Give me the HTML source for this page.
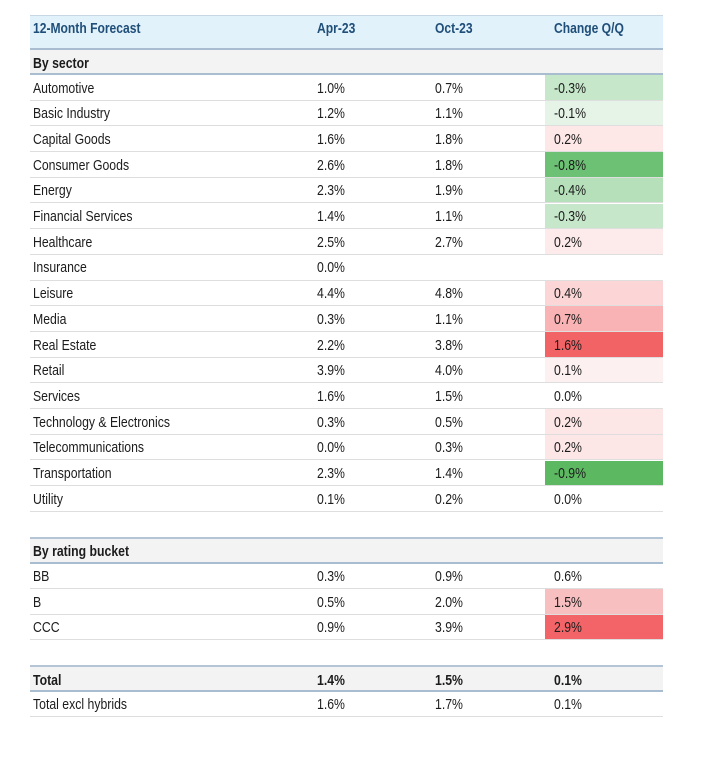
<!DOCTYPE html>
<html><head><meta charset="utf-8">
<style>
html,body{margin:0;padding:0;background:#fff;}
body{width:725px;height:760px;position:relative;overflow:hidden;font-family:"Liberation Sans",Arial,sans-serif;color:#1c1c1c;}
.r{position:absolute;left:30px;width:633px;height:25.7px;box-sizing:border-box;border-bottom:1px solid #dedede;}
.t{position:absolute;top:1.5px;line-height:25px;font-size:14.6px;white-space:nowrap;display:inline-block;transform:scaleX(0.84);transform-origin:0 50%;}
.c{position:absolute;left:515px;top:0;width:118px;height:100%;}
.a{left:287px}.o{left:405px}.q{left:524px}.l{left:3px}
.sec{background:#f3f3f3;border-bottom:2px solid #a9bdd0;}
.sec .t{font-weight:bold;}
.sect{border-top:2px solid #b3c5d6;}
.hd{position:absolute;left:30px;top:15px;width:633px;height:35px;box-sizing:border-box;background:#e2f2fa;border-top:1px solid #c8d7e4;border-bottom:2px solid #a9bdd0;}
.hd .t{font-weight:bold;color:#1f4e79;top:1.5px;line-height:22px;font-size:14.4px;}
</style></head><body>
<div class="hd">
<span class="t l">12-Month Forecast</span>
<span class="t a">Apr-23</span>
<span class="t o">Oct-23</span>
<span class="t q">Change Q/Q</span>
</div>
<div class="r sec" style="top:50px;height:25.4px;"><span class="t l">By sector</span></div>

<div class="r" style="top:75px"><div class="c" style="background:#c6e7c9"></div><span class="t l">Automotive</span><span class="t a">1.0%</span><span class="t o">0.7%</span><span class="t q">-0.3%</span></div>
<div class="r" style="top:100.7px"><div class="c" style="background:#e6f4e7"></div><span class="t l">Basic Industry</span><span class="t a">1.2%</span><span class="t o">1.1%</span><span class="t q">-0.1%</span></div>
<div class="r" style="top:126.4px"><div class="c" style="background:#fde7e7"></div><span class="t l">Capital Goods</span><span class="t a">1.6%</span><span class="t o">1.8%</span><span class="t q">0.2%</span></div>
<div class="r" style="top:152.1px"><div class="c" style="background:#6cc174"></div><span class="t l">Consumer Goods</span><span class="t a">2.6%</span><span class="t o">1.8%</span><span class="t q">-0.8%</span></div>
<div class="r" style="top:177.8px"><div class="c" style="background:#b5e0b9"></div><span class="t l">Energy</span><span class="t a">2.3%</span><span class="t o">1.9%</span><span class="t q">-0.4%</span></div>
<div class="r" style="top:203.5px"><div class="c" style="background:#c6e7c9"></div><span class="t l">Financial Services</span><span class="t a">1.4%</span><span class="t o">1.1%</span><span class="t q">-0.3%</span></div>
<div class="r" style="top:229.2px"><div class="c" style="background:#fdeaea"></div><span class="t l">Healthcare</span><span class="t a">2.5%</span><span class="t o">2.7%</span><span class="t q">0.2%</span></div>
<div class="r" style="top:254.9px"><span class="t l">Insurance</span><span class="t a">0.0%</span></div>
<div class="r" style="top:280.6px"><div class="c" style="background:#fcd5d6"></div><span class="t l">Leisure</span><span class="t a">4.4%</span><span class="t o">4.8%</span><span class="t q">0.4%</span></div>
<div class="r" style="top:306.3px"><div class="c" style="background:#f9b3b5"></div><span class="t l">Media</span><span class="t a">0.3%</span><span class="t o">1.1%</span><span class="t q">0.7%</span></div>
<div class="r" style="top:332px"><div class="c" style="background:#f26366"></div><span class="t l">Real Estate</span><span class="t a">2.2%</span><span class="t o">3.8%</span><span class="t q">1.6%</span></div>
<div class="r" style="top:357.7px"><div class="c" style="background:#fdf0f0"></div><span class="t l">Retail</span><span class="t a">3.9%</span><span class="t o">4.0%</span><span class="t q">0.1%</span></div>
<div class="r" style="top:383.4px"><span class="t l">Services</span><span class="t a">1.6%</span><span class="t o">1.5%</span><span class="t q">0.0%</span></div>
<div class="r" style="top:409.1px"><div class="c" style="background:#fde6e6"></div><span class="t l">Technology &amp; Electronics</span><span class="t a">0.3%</span><span class="t o">0.5%</span><span class="t q">0.2%</span></div>
<div class="r" style="top:434.8px"><div class="c" style="background:#fde6e6"></div><span class="t l">Telecommunications</span><span class="t a">0.0%</span><span class="t o">0.3%</span><span class="t q">0.2%</span></div>
<div class="r" style="top:460.5px"><div class="c" style="background:#5cb961"></div><span class="t l">Transportation</span><span class="t a">2.3%</span><span class="t o">1.4%</span><span class="t q">-0.9%</span></div>
<div class="r" style="top:486.2px"><span class="t l">Utility</span><span class="t a">0.1%</span><span class="t o">0.2%</span><span class="t q">0.0%</span></div>

<div class="r sec sect" style="top:536.6px;height:27px;"><span class="t l">By rating bucket</span></div>
<div class="r" style="top:563.3px"><span class="t l">BB</span><span class="t a">0.3%</span><span class="t o">0.9%</span><span class="t q">0.6%</span></div>
<div class="r" style="top:589px"><div class="c" style="background:#f8bfc0"></div><span class="t l">B</span><span class="t a">0.5%</span><span class="t o">2.0%</span><span class="t q">1.5%</span></div>
<div class="r" style="top:614.7px"><div class="c" style="background:#f26468"></div><span class="t l">CCC</span><span class="t a">0.9%</span><span class="t o">3.9%</span><span class="t q">2.9%</span></div>

<div class="r sec sect" style="top:665.1px;height:27px;"><span class="t l">Total</span><span class="t a">1.4%</span><span class="t o">1.5%</span><span class="t q">0.1%</span></div>
<div class="r" style="top:691.8px"><span class="t l">Total excl hybrids</span><span class="t a">1.6%</span><span class="t o">1.7%</span><span class="t q">0.1%</span></div>
</body></html>
